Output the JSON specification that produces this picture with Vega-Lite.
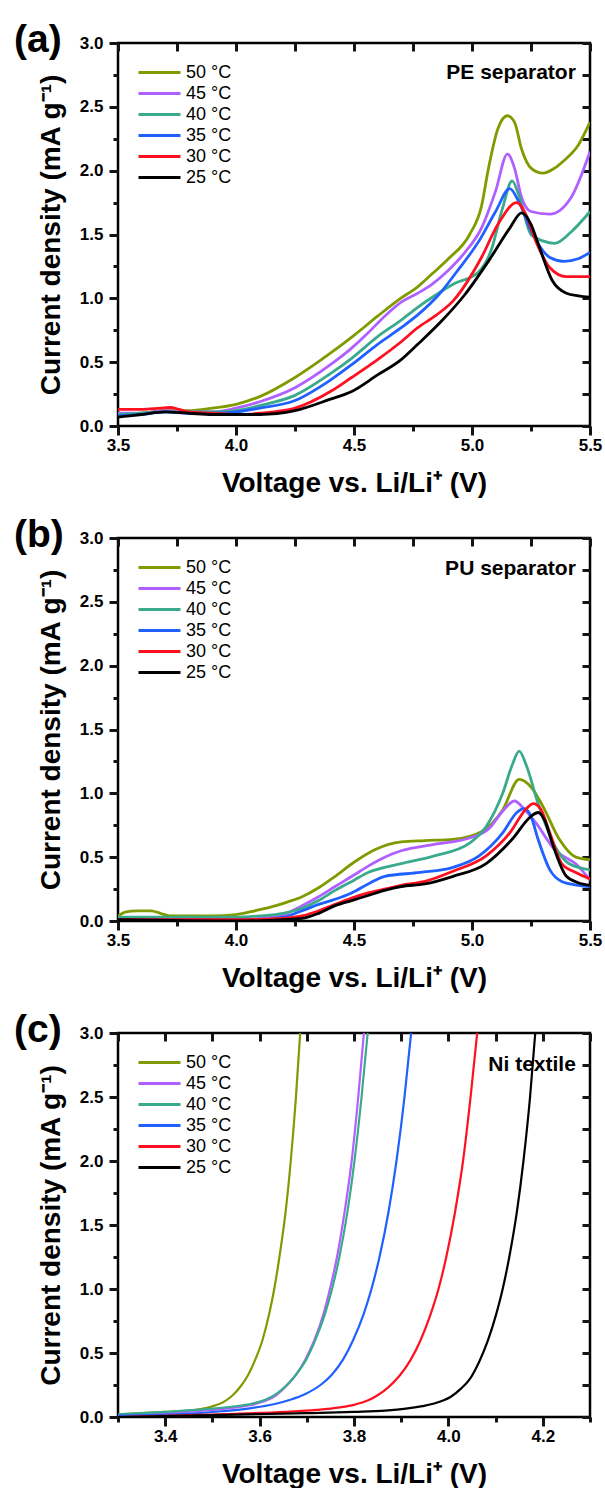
{
"$schema": "https://vega.github.io/schema/vega-lite/v6.json",
"padding": {"left": 12, "top": 19, "right": 5, "bottom": 0},
"background": "white",
"config": {
 "view": {"stroke": "#000", "strokeWidth": 2.5},
 "font": "Liberation Sans",
 "axis": {"grid": false, "domain": false, "tickColor": "#141414", "tickWidth": 3, "tickOpacity": 1, "labelFont": "Liberation Sans", "labelFontSize": 17, "labelFontWeight": "bold", "labelColor": "#000", "titleFont": "Liberation Sans", "titleFontSize": 28, "titleFontWeight": "bold", "titleColor": "#000", "labelOverlap": false, "labelFlush": false},
 "legend": {"orient": "top-left", "offset": 19, "padding": 0, "symbolType": "stroke", "symbolSize": 1764, "symbolStrokeWidth": 3, "clipHeight": 21, "rowPadding": 0, "labelOffset": 4, "labelFont": "Liberation Sans", "labelFontSize": 18, "labelColor": "#000", "title": null},
 "title": {"anchor": "start", "frame": "group", "fontSize": 39, "fontWeight": "bold", "font": "Liberation Sans", "color": "#000", "baseline": "alphabetic", "offset": 0, "dx": -104, "dy": 30}
},
"datasets": {
 "pe": [
  {"T":"50 °C","V":3.50,"I":0.09},{"T":"50 °C","V":3.60,"I":0.10},{"T":"50 °C","V":3.70,"I":0.12},{"T":"50 °C","V":3.80,"I":0.12},{"T":"50 °C","V":3.90,"I":0.14},{"T":"50 °C","V":4.00,"I":0.17},{"T":"50 °C","V":4.10,"I":0.23},{"T":"50 °C","V":4.25,"I":0.38},{"T":"50 °C","V":4.40,"I":0.57},{"T":"50 °C","V":4.50,"I":0.71},{"T":"50 °C","V":4.60,"I":0.86},{"T":"50 °C","V":4.69,"I":0.99},{"T":"50 °C","V":4.77,"I":1.09},{"T":"50 °C","V":4.83,"I":1.19},{"T":"50 °C","V":4.90,"I":1.31},{"T":"50 °C","V":4.99,"I":1.50},{"T":"50 °C","V":5.04,"I":1.72},{"T":"50 °C","V":5.07,"I":2.02},{"T":"50 °C","V":5.11,"I":2.33},{"T":"50 °C","V":5.15,"I":2.43},{"T":"50 °C","V":5.18,"I":2.38},{"T":"50 °C","V":5.21,"I":2.17},{"T":"50 °C","V":5.25,"I":2.02},{"T":"50 °C","V":5.30,"I":1.98},{"T":"50 °C","V":5.35,"I":2.02},{"T":"50 °C","V":5.39,"I":2.08},{"T":"50 °C","V":5.45,"I":2.20},{"T":"50 °C","V":5.50,"I":2.38},
  {"T":"45 °C","V":3.50,"I":0.10},{"T":"45 °C","V":3.60,"I":0.10},{"T":"45 °C","V":3.70,"I":0.12},{"T":"45 °C","V":3.80,"I":0.11},{"T":"45 °C","V":3.90,"I":0.11},{"T":"45 °C","V":4.00,"I":0.14},{"T":"45 °C","V":4.10,"I":0.19},{"T":"45 °C","V":4.25,"I":0.30},{"T":"45 °C","V":4.40,"I":0.48},{"T":"45 °C","V":4.49,"I":0.61},{"T":"45 °C","V":4.56,"I":0.73},{"T":"45 °C","V":4.63,"I":0.86},{"T":"45 °C","V":4.70,"I":0.97},{"T":"45 °C","V":4.77,"I":1.04},{"T":"45 °C","V":4.83,"I":1.11},{"T":"45 °C","V":4.90,"I":1.22},{"T":"45 °C","V":4.97,"I":1.36},{"T":"45 °C","V":5.04,"I":1.55},{"T":"45 °C","V":5.10,"I":1.84},{"T":"45 °C","V":5.15,"I":2.13},{"T":"45 °C","V":5.18,"I":2.02},{"T":"45 °C","V":5.21,"I":1.79},{"T":"45 °C","V":5.25,"I":1.68},{"T":"45 °C","V":5.33,"I":1.66},{"T":"45 °C","V":5.42,"I":1.79},{"T":"45 °C","V":5.50,"I":2.15},
  {"T":"40 °C","V":3.50,"I":0.09},{"T":"40 °C","V":3.60,"I":0.10},{"T":"40 °C","V":3.70,"I":0.11},{"T":"40 °C","V":3.80,"I":0.11},{"T":"40 °C","V":3.90,"I":0.11},{"T":"40 °C","V":4.00,"I":0.12},{"T":"40 °C","V":4.10,"I":0.16},{"T":"40 °C","V":4.25,"I":0.24},{"T":"40 °C","V":4.40,"I":0.41},{"T":"40 °C","V":4.49,"I":0.53},{"T":"40 °C","V":4.60,"I":0.70},{"T":"40 °C","V":4.70,"I":0.83},{"T":"40 °C","V":4.77,"I":0.93},{"T":"40 °C","V":4.85,"I":1.03},{"T":"40 °C","V":4.93,"I":1.12},{"T":"40 °C","V":5.00,"I":1.17},{"T":"40 °C","V":5.03,"I":1.21},{"T":"40 °C","V":5.08,"I":1.37},{"T":"40 °C","V":5.13,"I":1.71},{"T":"40 °C","V":5.17,"I":1.92},{"T":"40 °C","V":5.20,"I":1.80},{"T":"40 °C","V":5.25,"I":1.50},{"T":"40 °C","V":5.30,"I":1.45},{"T":"40 °C","V":5.35,"I":1.43},{"T":"40 °C","V":5.42,"I":1.52},{"T":"40 °C","V":5.50,"I":1.68},
  {"T":"35 °C","V":3.50,"I":0.08},{"T":"35 °C","V":3.60,"I":0.09},{"T":"35 °C","V":3.70,"I":0.11},{"T":"35 °C","V":3.80,"I":0.10},{"T":"35 °C","V":3.90,"I":0.10},{"T":"35 °C","V":4.00,"I":0.11},{"T":"35 °C","V":4.10,"I":0.14},{"T":"35 °C","V":4.25,"I":0.20},{"T":"35 °C","V":4.40,"I":0.36},{"T":"35 °C","V":4.49,"I":0.48},{"T":"35 °C","V":4.60,"I":0.64},{"T":"35 °C","V":4.70,"I":0.77},{"T":"35 °C","V":4.77,"I":0.87},{"T":"35 °C","V":4.86,"I":1.03},{"T":"35 °C","V":4.94,"I":1.22},{"T":"35 °C","V":5.03,"I":1.45},{"T":"35 °C","V":5.10,"I":1.68},{"T":"35 °C","V":5.16,"I":1.86},{"T":"35 °C","V":5.20,"I":1.75},{"T":"35 °C","V":5.25,"I":1.53},{"T":"35 °C","V":5.33,"I":1.32},{"T":"35 °C","V":5.39,"I":1.29},{"T":"35 °C","V":5.45,"I":1.31},{"T":"35 °C","V":5.50,"I":1.36},
  {"T":"30 °C","V":3.50,"I":0.13},{"T":"30 °C","V":3.60,"I":0.13},{"T":"30 °C","V":3.68,"I":0.14},{"T":"30 °C","V":3.72,"I":0.145},{"T":"30 °C","V":3.76,"I":0.13},{"T":"30 °C","V":3.80,"I":0.11},{"T":"30 °C","V":3.90,"I":0.10},{"T":"30 °C","V":4.00,"I":0.09},{"T":"30 °C","V":4.10,"I":0.10},{"T":"30 °C","V":4.25,"I":0.14},{"T":"30 °C","V":4.40,"I":0.27},{"T":"30 °C","V":4.49,"I":0.38},{"T":"30 °C","V":4.60,"I":0.52},{"T":"30 °C","V":4.70,"I":0.66},{"T":"30 °C","V":4.77,"I":0.77},{"T":"30 °C","V":4.85,"I":0.87},{"T":"30 °C","V":4.92,"I":0.98},{"T":"30 °C","V":5.04,"I":1.32},{"T":"30 °C","V":5.11,"I":1.58},{"T":"30 °C","V":5.19,"I":1.75},{"T":"30 °C","V":5.23,"I":1.65},{"T":"30 °C","V":5.27,"I":1.45},{"T":"30 °C","V":5.33,"I":1.24},{"T":"30 °C","V":5.40,"I":1.17},{"T":"30 °C","V":5.50,"I":1.17},
  {"T":"25 °C","V":3.50,"I":0.07},{"T":"25 °C","V":3.55,"I":0.08},{"T":"25 °C","V":3.60,"I":0.09},{"T":"25 °C","V":3.70,"I":0.11},{"T":"25 °C","V":3.80,"I":0.10},{"T":"25 °C","V":3.90,"I":0.09},{"T":"25 °C","V":4.00,"I":0.09},{"T":"25 °C","V":4.10,"I":0.09},{"T":"25 °C","V":4.25,"I":0.12},{"T":"25 °C","V":4.40,"I":0.21},{"T":"25 °C","V":4.49,"I":0.27},{"T":"25 °C","V":4.60,"I":0.40},{"T":"25 °C","V":4.70,"I":0.52},{"T":"25 °C","V":4.77,"I":0.64},{"T":"25 °C","V":4.87,"I":0.82},{"T":"25 °C","V":4.97,"I":1.03},{"T":"25 °C","V":5.08,"I":1.32},{"T":"25 °C","V":5.16,"I":1.55},{"T":"25 °C","V":5.21,"I":1.67},{"T":"25 °C","V":5.25,"I":1.58},{"T":"25 °C","V":5.28,"I":1.43},{"T":"25 °C","V":5.34,"I":1.14},{"T":"25 °C","V":5.40,"I":1.04},{"T":"25 °C","V":5.45,"I":1.02},{"T":"25 °C","V":5.50,"I":1.01}
 ],
 "pu": [
  {"T":"50 °C","V":3.50,"I":0.04},{"T":"50 °C","V":3.53,"I":0.07},{"T":"50 °C","V":3.58,"I":0.08},{"T":"50 °C","V":3.64,"I":0.08},{"T":"50 °C","V":3.68,"I":0.06},{"T":"50 °C","V":3.72,"I":0.04},{"T":"50 °C","V":3.80,"I":0.04},{"T":"50 °C","V":3.90,"I":0.04},{"T":"50 °C","V":4.00,"I":0.05},{"T":"50 °C","V":4.08,"I":0.08},{"T":"50 °C","V":4.15,"I":0.11},{"T":"50 °C","V":4.22,"I":0.15},{"T":"50 °C","V":4.28,"I":0.19},{"T":"50 °C","V":4.35,"I":0.26},{"T":"50 °C","V":4.42,"I":0.35},{"T":"50 °C","V":4.50,"I":0.46},{"T":"50 °C","V":4.59,"I":0.56},{"T":"50 °C","V":4.70,"I":0.62},{"T":"50 °C","V":4.80,"I":0.63},{"T":"50 °C","V":4.92,"I":0.64},{"T":"50 °C","V":5.04,"I":0.70},{"T":"50 °C","V":5.13,"I":0.87},{"T":"50 °C","V":5.20,"I":1.11},{"T":"50 °C","V":5.25,"I":1.05},{"T":"50 °C","V":5.30,"I":0.90},{"T":"50 °C","V":5.37,"I":0.64},{"T":"50 °C","V":5.44,"I":0.50},{"T":"50 °C","V":5.50,"I":0.48},
  {"T":"45 °C","V":3.50,"I":0.01},{"T":"45 °C","V":3.80,"I":0.01},{"T":"45 °C","V":4.00,"I":0.01},{"T":"45 °C","V":4.10,"I":0.02},{"T":"45 °C","V":4.20,"I":0.05},{"T":"45 °C","V":4.28,"I":0.12},{"T":"45 °C","V":4.35,"I":0.19},{"T":"45 °C","V":4.42,"I":0.27},{"T":"45 °C","V":4.50,"I":0.36},{"T":"45 °C","V":4.56,"I":0.43},{"T":"45 °C","V":4.63,"I":0.50},{"T":"45 °C","V":4.70,"I":0.55},{"T":"45 °C","V":4.84,"I":0.60},{"T":"45 °C","V":4.99,"I":0.65},{"T":"45 °C","V":5.07,"I":0.72},{"T":"45 °C","V":5.13,"I":0.86},{"T":"45 °C","V":5.18,"I":0.94},{"T":"45 °C","V":5.22,"I":0.88},{"T":"45 °C","V":5.27,"I":0.77},{"T":"45 °C","V":5.35,"I":0.56},{"T":"45 °C","V":5.45,"I":0.43},{"T":"45 °C","V":5.50,"I":0.32},
  {"T":"40 °C","V":3.50,"I":0.03},{"T":"40 °C","V":3.70,"I":0.03},{"T":"40 °C","V":3.90,"I":0.03},{"T":"40 °C","V":4.00,"I":0.03},{"T":"40 °C","V":4.10,"I":0.04},{"T":"40 °C","V":4.20,"I":0.06},{"T":"40 °C","V":4.28,"I":0.10},{"T":"40 °C","V":4.35,"I":0.16},{"T":"40 °C","V":4.42,"I":0.24},{"T":"40 °C","V":4.50,"I":0.32},{"T":"40 °C","V":4.56,"I":0.38},{"T":"40 °C","V":4.63,"I":0.42},{"T":"40 °C","V":4.70,"I":0.45},{"T":"40 °C","V":4.84,"I":0.51},{"T":"40 °C","V":4.99,"I":0.61},{"T":"40 °C","V":5.06,"I":0.74},{"T":"40 °C","V":5.13,"I":1.00},{"T":"40 °C","V":5.17,"I":1.22},{"T":"40 °C","V":5.20,"I":1.33},{"T":"40 °C","V":5.23,"I":1.22},{"T":"40 °C","V":5.28,"I":0.92},{"T":"40 °C","V":5.35,"I":0.59},{"T":"40 °C","V":5.41,"I":0.45},{"T":"40 °C","V":5.50,"I":0.40},
  {"T":"35 °C","V":3.50,"I":0.01},{"T":"35 °C","V":4.00,"I":0.01},{"T":"35 °C","V":4.10,"I":0.01},{"T":"35 °C","V":4.20,"I":0.03},{"T":"35 °C","V":4.28,"I":0.08},{"T":"35 °C","V":4.35,"I":0.13},{"T":"35 °C","V":4.42,"I":0.17},{"T":"35 °C","V":4.49,"I":0.22},{"T":"35 °C","V":4.56,"I":0.29},{"T":"35 °C","V":4.63,"I":0.35},{"T":"35 °C","V":4.78,"I":0.38},{"T":"35 °C","V":4.92,"I":0.42},{"T":"35 °C","V":5.03,"I":0.51},{"T":"35 °C","V":5.13,"I":0.69},{"T":"35 °C","V":5.19,"I":0.85},{"T":"35 °C","V":5.22,"I":0.88},{"T":"35 °C","V":5.25,"I":0.82},{"T":"35 °C","V":5.28,"I":0.64},{"T":"35 °C","V":5.33,"I":0.40},{"T":"35 °C","V":5.38,"I":0.31},{"T":"35 °C","V":5.45,"I":0.28},{"T":"35 °C","V":5.50,"I":0.27},
  {"T":"30 °C","V":3.50,"I":0.01},{"T":"30 °C","V":4.00,"I":0.01},{"T":"30 °C","V":4.20,"I":0.02},{"T":"30 °C","V":4.28,"I":0.04},{"T":"30 °C","V":4.35,"I":0.08},{"T":"30 °C","V":4.42,"I":0.13},{"T":"30 °C","V":4.49,"I":0.18},{"T":"30 °C","V":4.56,"I":0.22},{"T":"30 °C","V":4.63,"I":0.25},{"T":"30 °C","V":4.70,"I":0.28},{"T":"30 °C","V":4.80,"I":0.31},{"T":"30 °C","V":4.92,"I":0.39},{"T":"30 °C","V":5.06,"I":0.51},{"T":"30 °C","V":5.16,"I":0.69},{"T":"30 °C","V":5.23,"I":0.88},{"T":"30 °C","V":5.26,"I":0.92},{"T":"30 °C","V":5.29,"I":0.88},{"T":"30 °C","V":5.33,"I":0.69},{"T":"30 °C","V":5.38,"I":0.45},{"T":"30 °C","V":5.44,"I":0.38},{"T":"30 °C","V":5.50,"I":0.33},
  {"T":"25 °C","V":3.50,"I":0.01},{"T":"25 °C","V":4.00,"I":0.00},{"T":"25 °C","V":4.20,"I":0.01},{"T":"25 °C","V":4.28,"I":0.02},{"T":"25 °C","V":4.35,"I":0.06},{"T":"25 °C","V":4.42,"I":0.12},{"T":"25 °C","V":4.49,"I":0.16},{"T":"25 °C","V":4.56,"I":0.20},{"T":"25 °C","V":4.63,"I":0.24},{"T":"25 °C","V":4.70,"I":0.27},{"T":"25 °C","V":4.80,"I":0.29},{"T":"25 °C","V":4.92,"I":0.35},{"T":"25 °C","V":5.06,"I":0.45},{"T":"25 °C","V":5.17,"I":0.64},{"T":"25 °C","V":5.25,"I":0.82},{"T":"25 °C","V":5.28,"I":0.85},{"T":"25 °C","V":5.31,"I":0.78},{"T":"25 °C","V":5.34,"I":0.61},{"T":"25 °C","V":5.40,"I":0.35},{"T":"25 °C","V":5.45,"I":0.30},{"T":"25 °C","V":5.50,"I":0.28}
 ],
 "ni": [
  {"T":"50 °C","V":3.30,"I":0.02},{"T":"50 °C","V":3.40,"I":0.04},{"T":"50 °C","V":3.45,"I":0.05},{"T":"50 °C","V":3.497,"I":0.08},{"T":"50 °C","V":3.525,"I":0.12},{"T":"50 °C","V":3.543,"I":0.17},{"T":"50 °C","V":3.560,"I":0.24},{"T":"50 °C","V":3.576,"I":0.33},{"T":"50 °C","V":3.591,"I":0.45},{"T":"50 °C","V":3.606,"I":0.60},{"T":"50 °C","V":3.620,"I":0.80},{"T":"50 °C","V":3.631,"I":1.00},{"T":"50 °C","V":3.642,"I":1.25},{"T":"50 °C","V":3.655,"I":1.60},{"T":"50 °C","V":3.666,"I":2.00},{"T":"50 °C","V":3.677,"I":2.50},{"T":"50 °C","V":3.686,"I":3.0},
  {"T":"45 °C","V":3.30,"I":0.01},{"T":"45 °C","V":3.40,"I":0.03},{"T":"45 °C","V":3.50,"I":0.055},{"T":"45 °C","V":3.55,"I":0.075},{"T":"45 °C","V":3.59,"I":0.10},{"T":"45 °C","V":3.615,"I":0.13},{"T":"45 °C","V":3.635,"I":0.17},{"T":"45 °C","V":3.656,"I":0.24},{"T":"45 °C","V":3.677,"I":0.33},{"T":"45 °C","V":3.697,"I":0.45},{"T":"45 °C","V":3.716,"I":0.60},{"T":"45 °C","V":3.735,"I":0.80},{"T":"45 °C","V":3.749,"I":1.00},{"T":"45 °C","V":3.764,"I":1.25},{"T":"45 °C","V":3.780,"I":1.60},{"T":"45 °C","V":3.795,"I":2.00},{"T":"45 °C","V":3.809,"I":2.50},{"T":"45 °C","V":3.821,"I":3.0},
  {"T":"40 °C","V":3.30,"I":0.02},{"T":"40 °C","V":3.40,"I":0.04},{"T":"40 °C","V":3.48,"I":0.06},{"T":"40 °C","V":3.54,"I":0.08},{"T":"40 °C","V":3.585,"I":0.105},{"T":"40 °C","V":3.612,"I":0.135},{"T":"40 °C","V":3.633,"I":0.175},{"T":"40 °C","V":3.655,"I":0.24},{"T":"40 °C","V":3.677,"I":0.33},{"T":"40 °C","V":3.699,"I":0.45},{"T":"40 °C","V":3.718,"I":0.60},{"T":"40 °C","V":3.738,"I":0.80},{"T":"40 °C","V":3.7535,"I":1.00},{"T":"40 °C","V":3.769,"I":1.25},{"T":"40 °C","V":3.786,"I":1.60},{"T":"40 °C","V":3.801,"I":2.00},{"T":"40 °C","V":3.816,"I":2.50},{"T":"40 °C","V":3.829,"I":3.0},
  {"T":"35 °C","V":3.30,"I":0.01},{"T":"35 °C","V":3.45,"I":0.025},{"T":"35 °C","V":3.52,"I":0.045},{"T":"35 °C","V":3.582,"I":0.07},{"T":"35 °C","V":3.63,"I":0.10},{"T":"35 °C","V":3.665,"I":0.135},{"T":"35 °C","V":3.697,"I":0.18},{"T":"35 °C","V":3.729,"I":0.25},{"T":"35 °C","V":3.753,"I":0.33},{"T":"35 °C","V":3.777,"I":0.45},{"T":"35 °C","V":3.798,"I":0.60},{"T":"35 °C","V":3.820,"I":0.80},{"T":"35 °C","V":3.837,"I":1.00},{"T":"35 °C","V":3.854,"I":1.25},{"T":"35 °C","V":3.873,"I":1.60},{"T":"35 °C","V":3.890,"I":2.00},{"T":"35 °C","V":3.907,"I":2.50},{"T":"35 °C","V":3.921,"I":3.0},
  {"T":"30 °C","V":3.30,"I":0.00},{"T":"30 °C","V":3.45,"I":0.015},{"T":"30 °C","V":3.55,"I":0.025},{"T":"30 °C","V":3.654,"I":0.04},{"T":"30 °C","V":3.72,"I":0.055},{"T":"30 °C","V":3.77,"I":0.075},{"T":"30 °C","V":3.80,"I":0.095},{"T":"30 °C","V":3.83,"I":0.13},{"T":"30 °C","V":3.85,"I":0.17},{"T":"30 °C","V":3.872,"I":0.23},{"T":"30 °C","V":3.896,"I":0.32},{"T":"30 °C","V":3.919,"I":0.44},{"T":"30 °C","V":3.941,"I":0.60},{"T":"30 °C","V":3.962,"I":0.80},{"T":"30 °C","V":3.979,"I":1.00},{"T":"30 °C","V":3.9955,"I":1.25},{"T":"30 °C","V":4.014,"I":1.60},{"T":"30 °C","V":4.031,"I":2.00},{"T":"30 °C","V":4.047,"I":2.50},{"T":"30 °C","V":4.061,"I":3.0},
  {"T":"25 °C","V":3.30,"I":0.00},{"T":"25 °C","V":3.50,"I":0.015},{"T":"25 °C","V":3.70,"I":0.03},{"T":"25 °C","V":3.80,"I":0.04},{"T":"25 °C","V":3.866,"I":0.05},{"T":"25 °C","V":3.91,"I":0.065},{"T":"25 °C","V":3.945,"I":0.085},{"T":"25 °C","V":3.97,"I":0.105},{"T":"25 °C","V":3.99,"I":0.13},{"T":"25 °C","V":4.006,"I":0.16},{"T":"25 °C","V":4.026,"I":0.22},{"T":"25 °C","V":4.046,"I":0.30},{"T":"25 °C","V":4.065,"I":0.43},{"T":"25 °C","V":4.083,"I":0.59},{"T":"25 °C","V":4.101,"I":0.80},{"T":"25 °C","V":4.115,"I":1.00},{"T":"25 °C","V":4.129,"I":1.25},{"T":"25 °C","V":4.145,"I":1.60},{"T":"25 °C","V":4.159,"I":2.00},{"T":"25 °C","V":4.173,"I":2.50},{"T":"25 °C","V":4.184,"I":3.0}
 ]
},
"bounds": "flush",
"spacing": 112,
"resolve": {"scale": {"color": "independent"}, "legend": {"color": "independent"}},
"vconcat": [
 {
  "width": 472, "height": 383,
  "title": {"text": "(a)"},
  "layer": [
   {
    "data": {"name": "pe"},
    "mark": {"type": "line", "strokeWidth": 2.8, "interpolate": "monotone", "clip": true},
    "encoding": {
     "x": {"field": "V", "type": "quantitative", "scale": {"domain": [3.5, 5.5], "nice": false, "zero": false},
      "axis": {"orient": "bottom", "title": "Voltage vs. Li/Li⁺ (V)", "values": [3.5,4.0,4.5,5.0,5.5], "format": ".1f", "tickSize": 9, "labelPadding": 2, "titlePadding": 16}},
     "y": {"field": "I", "type": "quantitative", "scale": {"domain": [0, 3], "nice": false},
      "axis": {"orient": "left", "title": "Current density (mA g⁻¹)", "values": [0,0.5,1,1.5,2,2.5,3], "format": ".1f", "tickSize": 9, "labelPadding": 6, "titlePadding": 14}},
     "color": {"field": "T", "type": "nominal", "scale": {"domain": ["50 °C","45 °C","40 °C","35 °C","30 °C","25 °C"], "range": ["#809B00","#B060FF","#3AAA8C","#2060FF","#FF1020","#000000"]}}
    }
   },
   {
    "data": {"values": [{"label": "PE separator"}]},
    "mark": {"type": "text", "align": "right", "baseline": "alphabetic", "fontSize": 21, "fontWeight": "bold", "font": "Liberation Sans", "color": "#000"},
    "encoding": {
     "text": {"field": "label"},
     "x": {"datum": 5.44, "type": "quantitative", "scale": {"domain": [3.5, 5.5], "nice": false, "zero": false}, "axis": {"orient": "top", "title": null, "labels": false, "values": [3.5,3.75,4.0,4.25,4.5,4.75,5.0,5.25,5.5], "tickSize": 8, "offset": -8}},
     "y": {"datum": 2.72, "type": "quantitative", "scale": {"domain": [0, 3], "nice": false}, "axis": {"orient": "right", "title": null, "labels": false, "values": [0,0.25,0.5,0.75,1,1.25,1.5,1.75,2,2.25,2.5,2.75,3], "tickSize": 8, "offset": -8}}
    }
   },
   {
    "data": {"values": [{"label": "PE separator"}]},
    "mark": {"type": "text", "opacity": 0},
    "encoding": {
     "text": {"field": "label"},
     "x": {"datum": 4.5, "type": "quantitative", "scale": {"domain": [3.5, 5.5], "nice": false, "zero": false}, "axis": {"orient": "bottom", "title": null, "labels": false, "values": [3.75,4.25,4.75,5.25], "tickSize": 5}},
     "y": {"datum": 1.5, "type": "quantitative", "scale": {"domain": [0, 3], "nice": false}, "axis": {"orient": "left", "title": null, "labels": false, "values": [0.25,0.75,1.25,1.75,2.25,2.75], "tickSize": 5}}
    }
   }
  ],
  "resolve": {"axis": {"x": "independent", "y": "independent"}}
 },
 {
  "width": 472, "height": 383,
  "title": {"text": "(b)"},
  "layer": [
   {
    "data": {"name": "pu"},
    "mark": {"type": "line", "strokeWidth": 2.8, "interpolate": "monotone", "clip": true},
    "encoding": {
     "x": {"field": "V", "type": "quantitative", "scale": {"domain": [3.5, 5.5], "nice": false, "zero": false},
      "axis": {"orient": "bottom", "title": "Voltage vs. Li/Li⁺ (V)", "values": [3.5,4.0,4.5,5.0,5.5], "format": ".1f", "tickSize": 9, "labelPadding": 2, "titlePadding": 16}},
     "y": {"field": "I", "type": "quantitative", "scale": {"domain": [0, 3], "nice": false},
      "axis": {"orient": "left", "title": "Current density (mA g⁻¹)", "values": [0,0.5,1,1.5,2,2.5,3], "format": ".1f", "tickSize": 9, "labelPadding": 6, "titlePadding": 14}},
     "color": {"field": "T", "type": "nominal", "scale": {"domain": ["50 °C","45 °C","40 °C","35 °C","30 °C","25 °C"], "range": ["#809B00","#B060FF","#3AAA8C","#2060FF","#FF1020","#000000"]}}
    }
   },
   {
    "data": {"values": [{"label": "PU separator"}]},
    "mark": {"type": "text", "align": "right", "baseline": "alphabetic", "fontSize": 21, "fontWeight": "bold", "font": "Liberation Sans", "color": "#000"},
    "encoding": {
     "text": {"field": "label"},
     "x": {"datum": 5.44, "type": "quantitative", "scale": {"domain": [3.5, 5.5], "nice": false, "zero": false}, "axis": {"orient": "top", "title": null, "labels": false, "values": [3.5,3.75,4.0,4.25,4.5,4.75,5.0,5.25,5.5], "tickSize": 8, "offset": -8}},
     "y": {"datum": 2.71, "type": "quantitative", "scale": {"domain": [0, 3], "nice": false}, "axis": {"orient": "right", "title": null, "labels": false, "values": [0,0.25,0.5,0.75,1,1.25,1.5,1.75,2,2.25,2.5,2.75,3], "tickSize": 8, "offset": -8}}
    }
   },
   {
    "data": {"values": [{"label": "PU separator"}]},
    "mark": {"type": "text", "opacity": 0},
    "encoding": {
     "text": {"field": "label"},
     "x": {"datum": 4.5, "type": "quantitative", "scale": {"domain": [3.5, 5.5], "nice": false, "zero": false}, "axis": {"orient": "bottom", "title": null, "labels": false, "values": [3.75,4.25,4.75,5.25], "tickSize": 5}},
     "y": {"datum": 1.5, "type": "quantitative", "scale": {"domain": [0, 3], "nice": false}, "axis": {"orient": "left", "title": null, "labels": false, "values": [0.25,0.75,1.25,1.75,2.25,2.75], "tickSize": 5}}
    }
   }
  ],
  "resolve": {"axis": {"x": "independent", "y": "independent"}}
 },
 {
  "width": 472, "height": 384,
  "title": {"text": "(c)"},
  "layer": [
   {
    "data": {"name": "ni"},
    "mark": {"type": "line", "strokeWidth": 2.2, "interpolate": "monotone", "clip": true},
    "encoding": {
     "x": {"field": "V", "type": "quantitative", "scale": {"domain": [3.3, 4.3], "nice": false, "zero": false},
      "axis": {"orient": "bottom", "title": "Voltage vs. Li/Li⁺ (V)", "values": [3.4,3.6,3.8,4.0,4.2], "format": ".1f", "tickSize": 9, "labelPadding": 2, "titlePadding": 16}},
     "y": {"field": "I", "type": "quantitative", "scale": {"domain": [0, 3], "nice": false},
      "axis": {"orient": "left", "title": "Current density (mA g⁻¹)", "values": [0,0.5,1,1.5,2,2.5,3], "format": ".1f", "tickSize": 9, "labelPadding": 6, "titlePadding": 14}},
     "color": {"field": "T", "type": "nominal", "scale": {"domain": ["50 °C","45 °C","40 °C","35 °C","30 °C","25 °C"], "range": ["#809B00","#B060FF","#3AAA8C","#2060FF","#FF1020","#000000"]}}
    }
   },
   {
    "data": {"values": [{"label": "Ni textile"}]},
    "mark": {"type": "text", "align": "right", "baseline": "alphabetic", "fontSize": 21, "fontWeight": "bold", "font": "Liberation Sans", "color": "#000"},
    "encoding": {
     "text": {"field": "label"},
     "x": {"datum": 4.27, "type": "quantitative", "scale": {"domain": [3.3, 4.3], "nice": false, "zero": false}, "axis": {"orient": "top", "title": null, "labels": false, "values": [3.3,3.4,3.5,3.6,3.7,3.8,3.9,4.0,4.1,4.2,4.3], "tickSize": 8, "offset": -8}},
     "y": {"datum": 2.70, "type": "quantitative", "scale": {"domain": [0, 3], "nice": false}, "axis": {"orient": "right", "title": null, "labels": false, "values": [0,0.25,0.5,0.75,1,1.25,1.5,1.75,2,2.25,2.5,2.75,3], "tickSize": 8, "offset": -8}}
    }
   },
   {
    "data": {"values": [{"label": "Ni textile"}]},
    "mark": {"type": "text", "opacity": 0},
    "encoding": {
     "text": {"field": "label"},
     "x": {"datum": 3.8, "type": "quantitative", "scale": {"domain": [3.3, 4.3], "nice": false, "zero": false}, "axis": {"orient": "bottom", "title": null, "labels": false, "values": [3.3,3.5,3.7,3.9,4.1,4.3], "tickSize": 5}},
     "y": {"datum": 1.5, "type": "quantitative", "scale": {"domain": [0, 3], "nice": false}, "axis": {"orient": "left", "title": null, "labels": false, "values": [0.25,0.75,1.25,1.75,2.25,2.75], "tickSize": 5}}
    }
   }
  ],
  "resolve": {"axis": {"x": "independent", "y": "independent"}}
 }
]
}
